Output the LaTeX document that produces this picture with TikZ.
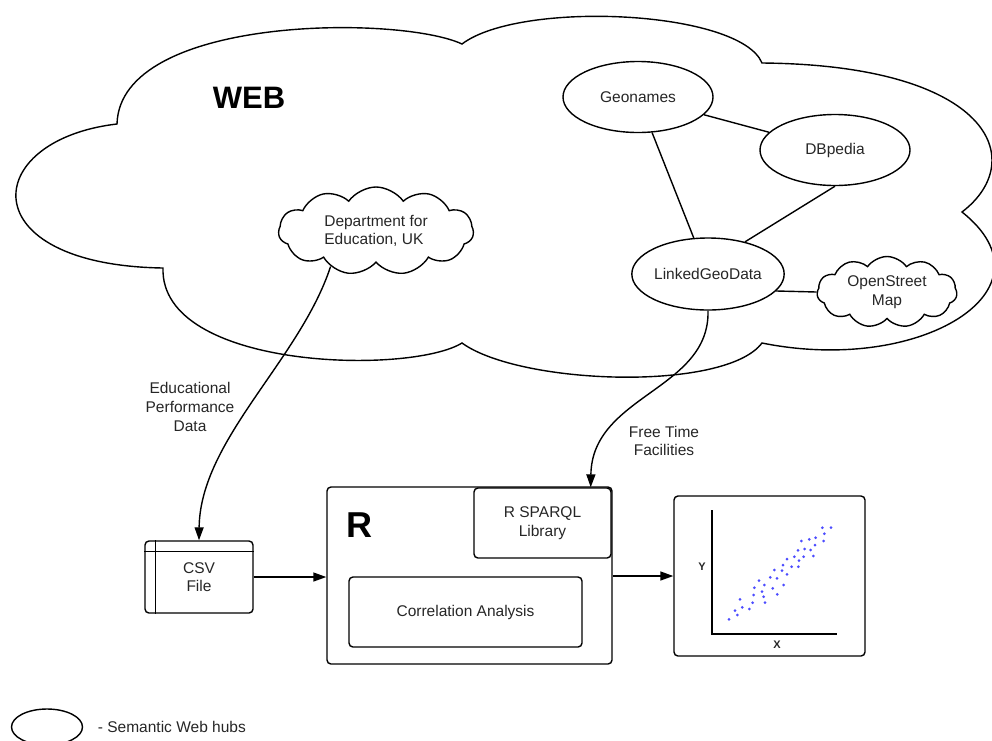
\documentclass[tikz,border=0pt]{standalone}
\usepackage{fontspec}
\setmainfont{Liberation Sans}
\usetikzlibrary{arrows.meta,positioning,shapes.geometric,shapes.symbols}

\begin{document}
\begin{tikzpicture}[x=1pt,y=-1pt,line width=1.4pt,
  every node/.style={font=\fontsize{15.5}{18.7}\selectfont,text=black!85},
  hub/.style={draw,ellipse,inner sep=0pt,minimum width=150pt,minimum height=71pt},
  puff/.style={draw,cloud,cloud puffs=11,cloud puff arc=110,cloud ignores aspect,inner sep=0pt},
  panel/.style={draw,rectangle,rounded corners=4pt,inner sep=0pt},
  flow/.style={-{Triangle[length=13pt,width=9pt]}},
  dot/.style={fill=blue!70!white}]

\clip (0,0) rectangle (992,740);

% the web
\draw (462,44) .. controls (400,15) and (120,15) .. (117,124)
  .. controls (-20,140) and (-30,265) .. (163,268)
  .. controls (160,370) and (410,375) .. (462,343)
  .. controls (520,385) and (725,392) .. (762,343)
  .. controls (920,375) and (1060,290) .. (962,212)
  .. controls (1030,160) and (990,65) .. (762,63)
  .. controls (740,10) and (520,0) .. cycle;
\node[font=\bfseries\fontsize{31}{36}\selectfont,text=black] (web) at (249,98) {WEB};

\node[puff,minimum width=195pt,minimum height=88pt,align=left] (dept) at (376,231) {Department for\\Education, UK};

\node[hub] (geo) at (638,97) {Geonames};
\node[hub] (dbp) at (835,150) {DBpedia};
\node[hub,minimum width=151pt,minimum height=72pt] (lgd) at (708,274) {LinkedGeoData};
\node[puff,minimum width=140pt,minimum height=71pt,align=center] (osm) at (887,292) {OpenStreet\\Map};

\draw (geo) -- (dbp);
\draw (geo) -- (lgd);
\draw (dbp.south) -- (lgd.41);
\draw (lgd.-14) -- (osm.west);

% csv file
\node[panel,minimum width=108pt,minimum height=72pt,align=center] (csv) at (199,577) {CSV\\File};
\draw ([yshift=-11pt]csv.north west) -- ([yshift=-11pt]csv.north east);
\draw ([xshift=11pt]csv.north west) -- ([xshift=11pt]csv.south west);

% R
\node[panel,minimum width=285pt,minimum height=177pt] (rbox) at (469.5,575.5) {};
\node[font=\bfseries\fontsize{36}{40}\selectfont,text=black] (rname) at (359,525) {R};
\node[panel,minimum width=137pt,minimum height=70pt,align=center] (sparql) at (542.5,523) {R SPARQL\\Library};
\node[panel,minimum width=233pt,minimum height=70pt] (corr) at (465.5,612) {Correlation Analysis};

% plot
\node[panel,minimum width=191pt,minimum height=160pt] (chart) at (769.5,576) {};
\draw (712,510) -- (712,634) -- (837,634);
\node[font=\bfseries\fontsize{11}{13}\selectfont] (ylab) at (702,567) {Y};
\node[font=\bfseries\fontsize{11}{13}\selectfont] (xlab) at (777,645) {X};
\foreach \px/\py in {729.0/619.3,735.0/610.7,737.3/615.0,740.0/599.3,742.3/607.3,
    749.3/609.0,752.7/602.7,753.7/595.0,754.3/587.7,759.0/580.7,762.0/591.7,
    763.7/596.7,765.0/602.7,764.3/585.0,770.3/577.3,772.7/588.3,774.3/570.0,
    777.0/578.3,777.3/594.3,782.0/570.7,783.0/565.0,783.7/585.0,787.0/559.0,
    787.0/574.3,791.7/566.7,794.3/556.7,798.3/566.7,799.0/560.7,798.0/550.3,
    801.3/541.0,803.7/556.7,804.7/549.0,809.3/539.3,810.7/550.0,813.3/556.0,
    815.0/545.0,815.7/537.7,822.3/527.7,823.7/541.0,824.3/533.7,831.0/527.7}
  \fill[dot] (\px,\py) circle (1.5);

% flows
\draw[flow] (dept.218) .. controls (300,360) and (200,440) .. (csv.north);
\node[align=center] (edu) at (190,407) {Educational\\Performance\\Data};
\draw[flow] (lgd.south) .. controls (710,390) and (592,395) .. ([xshift=-21pt]sparql.north east);
\node[align=center] (free) at (664,441) {Free Time\\Facilities};
\draw[flow] (csv.east) -- (rbox.west |- csv.east);
\draw[flow] (rbox.east |- chart.west) -- (chart.west);

% legend
\node[hub,minimum width=71pt,minimum height=36pt] (key) at (47,727) {};
\node[right=14pt of key,inner sep=0pt] (keytext) {- Semantic Web hubs};

\end{tikzpicture}
\end{document}
